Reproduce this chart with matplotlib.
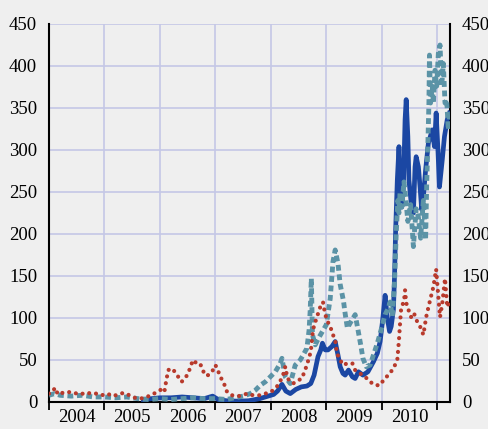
import matplotlib
matplotlib.use("Agg")
import matplotlib.pyplot as plt

plt.rcParams['font.family'] = ['Liberation Serif', 'DejaVu Serif']

# values (decimal year, value)
blue_t = [2005.70, 2005.85, 2006.0, 2006.2, 2006.4, 2006.6, 2006.8, 2006.95, 2007.05, 2007.2,
          2007.4, 2007.6, 2007.8, 2007.95, 2008.05, 2008.12, 2008.20, 2008.27, 2008.35, 2008.45,
          2008.55, 2008.65, 2008.72, 2008.78, 2008.85, 2008.90, 2008.93, 2008.98, 2009.03, 2009.10,
          2009.16, 2009.21, 2009.25, 2009.30, 2009.34, 2009.40, 2009.47, 2009.52, 2009.58, 2009.66,
          2009.75, 2009.85, 2009.92, 2009.97, 2010.02, 2010.06, 2010.10, 2010.14, 2010.17, 2010.21,
          2010.23, 2010.25, 2010.28, 2010.31, 2010.33, 2010.36, 2010.39, 2010.42, 2010.44, 2010.47,
          2010.49, 2010.53, 2010.57, 2010.60, 2010.62, 2010.66, 2010.69, 2010.72, 2010.75, 2010.79,
          2010.84, 2010.91, 2010.95, 2010.98, 2011.01, 2011.04, 2011.09, 2011.13, 2011.18, 2011.22]
blue_v = [3, 4, 5, 5, 6, 5, 4, 7, 3, 1.5,
          1, 1.5, 4, 7, 9, 13, 21, 13, 10, 15,
          18, 19, 22, 32, 54, 62, 70, 62, 62, 66,
          72, 56, 42, 34, 32, 38, 30, 28, 36, 32,
          36, 48, 58, 72, 100, 127, 100, 84, 90, 110,
          150, 205, 264, 304, 264, 232, 256, 336, 360, 316,
          264, 237, 225, 280, 292, 280, 256, 229, 244, 276,
          308, 324, 304, 344, 304, 256, 288, 316, 336, 344]

teal_t = [2004.00, 2004.10, 2004.20, 2004.40, 2004.60, 2004.80, 2005.00, 2005.20, 2005.40, 2005.60,
          2005.80, 2006.00, 2006.20, 2006.40, 2006.60, 2006.80, 2007.00, 2007.20, 2007.35, 2007.50,
          2007.63, 2007.72, 2007.81, 2007.90, 2007.99, 2008.08, 2008.17, 2008.20, 2008.26, 2008.35,
          2008.44, 2008.53, 2008.60, 2008.65, 2008.69, 2008.71, 2008.73, 2008.75, 2008.80, 2008.86,
          2009.00, 2009.07, 2009.12, 2009.16, 2009.21, 2009.25, 2009.31, 2009.34, 2009.38, 2009.43,
          2009.52, 2009.56, 2009.62, 2009.66, 2009.72, 2009.79, 2009.85, 2009.92, 2009.98, 2010.06,
          2010.12, 2010.15, 2010.19, 2010.23, 2010.26, 2010.29, 2010.31, 2010.33, 2010.36, 2010.40,
          2010.43, 2010.47, 2010.52, 2010.57, 2010.62, 2010.66, 2010.70, 2010.75, 2010.79, 2010.81,
          2010.83, 2010.85, 2010.86, 2010.88, 2010.91, 2010.93, 2010.96, 2010.99, 2011.02, 2011.05,
          2011.08, 2011.11, 2011.14, 2011.17, 2011.20, 2011.22]
teal_v = [8, 10, 8, 7, 8, 6, 6, 5, 6, 4,
          3, 4, 3, 4, 5, 4, 4, 3, 5, 7,
          10, 14, 20, 24, 30, 36, 46, 52, 30, 22,
          44, 50, 58, 64, 86, 110, 147, 80, 68, 76,
          92, 123, 167, 181, 165, 140, 120, 105, 88, 94,
          104, 90, 68, 52, 42, 44, 56, 70, 84, 104,
          112, 119, 102, 143, 200, 240, 225, 250, 232, 262,
          244, 215, 235, 185, 230, 220, 195, 240, 193, 260,
          304, 356, 413, 356, 376, 356, 395, 376, 415, 425,
          376, 403, 356, 360, 324, 340]

red_t = [2004.00, 2004.06, 2004.11, 2004.16, 2004.25, 2004.35, 2004.45, 2004.55, 2004.65, 2004.75,
         2004.85, 2004.95, 2005.05, 2005.15, 2005.25, 2005.35, 2005.45, 2005.55, 2005.65, 2005.75,
         2005.85, 2005.94, 2006.03, 2006.08, 2006.11, 2006.15, 2006.21, 2006.27, 2006.33, 2006.39,
         2006.45, 2006.51, 2006.56, 2006.60, 2006.66, 2006.72, 2006.75, 2006.81, 2006.87, 2006.94,
         2007.00, 2007.03, 2007.09, 2007.14, 2007.18, 2007.21, 2007.30, 2007.45, 2007.57, 2007.68,
         2007.80, 2007.90, 2008.00, 2008.08, 2008.15, 2008.22, 2008.26, 2008.30, 2008.40, 2008.50,
         2008.56, 2008.65, 2008.72, 2008.76, 2008.80, 2008.83, 2008.89, 2008.94, 2008.98, 2009.03,
         2009.07, 2009.12, 2009.16, 2009.19, 2009.25, 2009.30, 2009.38, 2009.47, 2009.52, 2009.61,
         2009.70, 2009.79, 2009.88, 2009.97, 2010.05, 2010.12, 2010.21, 2010.28, 2010.31, 2010.33,
         2010.35, 2010.40, 2010.42, 2010.44, 2010.49, 2010.53, 2010.58, 2010.62, 2010.69, 2010.75,
         2010.80, 2010.87, 2010.93, 2010.98, 2011.02, 2011.05, 2011.09, 2011.14, 2011.18, 2011.22]
red_v = [10, 12, 17, 9, 11, 12, 10, 11, 9, 11,
         10, 8, 10, 7, 9, 11, 8, 5, 4, 6,
         8, 12, 15, 12, 24, 38, 40, 36, 30, 24,
         28, 34, 44, 50, 46, 46, 42, 32, 32, 36,
         44, 40, 30, 24, 18, 12, 8, 7, 10, 8,
         8, 10, 12, 16, 22, 32, 42, 28, 22, 26,
         28, 44, 60, 86, 95, 101, 113, 119, 104, 95,
         90, 80, 74, 58, 50, 44, 46, 46, 38, 34,
         30, 24, 20, 20, 28, 32, 40, 50, 74, 94,
         112, 120, 133, 118, 108, 101, 106, 98, 90, 80,
         101, 121, 137, 158, 125, 101, 117, 147, 113, 120]

years = list(range(2004, 2011))
y_ticks = list(range(0, 451, 50))

bg = '#efefef'
fig = plt.figure(figsize=(4.89, 4.29), dpi=100, facecolor=bg)
ax = fig.add_axes([49 / 489, 27 / 429, 401 / 489, 378 / 429], facecolor=bg)

# three series: solid blue, dashed teal, dotted red
ax.plot(blue_t, blue_v, color='#1b47a3', lw=3.4, solid_joinstyle='round', zorder=3)
ax.plot(teal_t, teal_v, color='#5b93a6', lw=3.5, dashes=(1.2, 0.75),
        dash_capstyle='butt', zorder=4)
ax.plot(red_t, red_v, color='#b83a2c', lw=3.0, dashes=(0.01, 1.65),
        dash_capstyle='round', zorder=5)

ax.set_xlim(2004, 2011.23)
ax.set_ylim(0, 450)

# year boundaries get the tick marks, labels sit mid-year
ax.set_xticks(list(range(2004, 2012)))
ax.set_xticklabels([])
ax.set_xticks([y + 0.5 for y in years], minor=True)
ax.set_xticklabels([str(y) for y in years], minor=True)
ax.tick_params(axis='x', which='major', length=6, width=1.3, color='black', direction='out')
ax.tick_params(axis='x', which='minor', length=0, pad=5, labelsize=13.5)

ax.set_yticks(y_ticks)
ax.tick_params(axis='y', length=0, pad=8.5, labelsize=13.5, labelright=True)

ax.grid(True, which='major', color='#c4c7e6', lw=1.2, zorder=0)
ax.set_axisbelow(True)

for s in ['left', 'right', 'bottom']:
    ax.spines[s].set_color('black')
    ax.spines[s].set_linewidth(1.5)
ax.spines['top'].set_visible(False)

plt.savefig('out.png', dpi=100, facecolor=bg)
